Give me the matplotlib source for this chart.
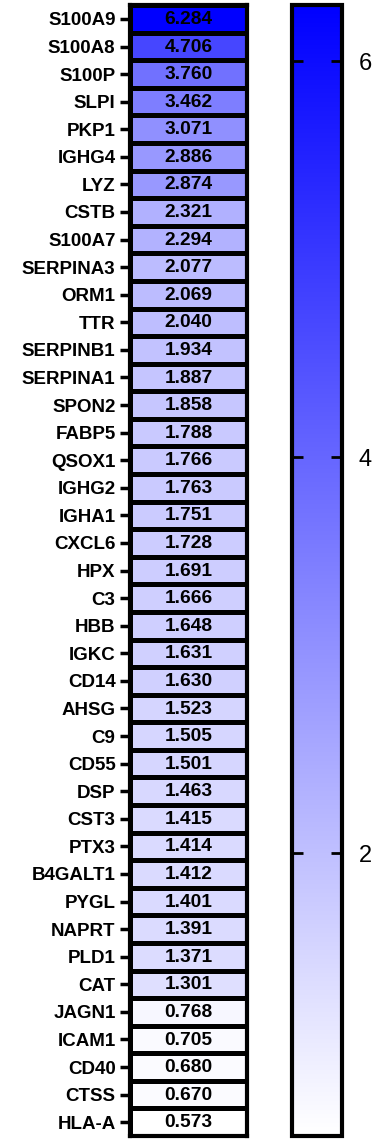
import numpy as np
import matplotlib
matplotlib.use("Agg")
import matplotlib.pyplot as plt
from matplotlib.colors import LinearSegmentedColormap

plt.rcParams['font.family'] = ['Liberation Sans', 'DejaVu Sans']

genes = ["S100A9", "S100A8", "S100P", "SLPI", "PKP1", "IGHG4", "LYZ", "CSTB",
         "S100A7", "SERPINA3", "ORM1", "TTR", "SERPINB1", "SERPINA1", "SPON2",
         "FABP5", "QSOX1", "IGHG2", "IGHA1", "CXCL6", "HPX", "C3", "HBB", "IGKC",
         "CD14", "AHSG", "C9", "CD55", "DSP", "CST3", "PTX3", "B4GALT1", "PYGL",
         "NAPRT", "PLD1", "CAT", "JAGN1", "ICAM1", "CD40", "CTSS", "HLA-A"]
values = [6.284, 4.706, 3.760, 3.462, 3.071, 2.886, 2.874, 2.321, 2.294, 2.077,
          2.069, 2.040, 1.934, 1.887, 1.858, 1.788, 1.766, 1.763, 1.751, 1.728,
          1.691, 1.666, 1.648, 1.631, 1.630, 1.523, 1.505, 1.501, 1.463, 1.415,
          1.414, 1.412, 1.401, 1.391, 1.371, 1.301, 0.768, 0.705, 0.680, 0.670,
          0.573]
cbar_ticks = [2, 4, 6]

# white -> pure blue, scaled to data min/max
cmap = LinearSegmentedColormap.from_list("wb", ["#ffffff", "#0000ff"])
vmin, vmax = min(values), max(values)

fig = plt.figure(figsize=(3.84, 11.4), dpi=100)
ax = fig.add_axes([0.339, 0.0035, 0.304, 0.992])
cax = fig.add_axes([0.761, 0.0035, 0.130, 0.992])

n = len(values)
data = np.array(values).reshape(-1, 1)
mesh = ax.pcolormesh(data, cmap=cmap, vmin=vmin, vmax=vmax,
                     edgecolors="black", linewidth=2.3)
ax.set_xlim(0, 1)
ax.set_ylim(n, 0)
ax.set_xticks([])
ax.set_yticks(np.arange(n) + 0.5)
ax.set_yticklabels(genes, fontsize=13.5, fontweight="bold")
ax.tick_params(axis="y", length=7, width=2.5, pad=3.5)
for s in ax.spines.values():
    s.set_linewidth(3)

for i, v in enumerate(values):
    ax.text(0.5, i + 0.52, f"{v:.3f}", ha="center", va="center",
            fontsize=13.8, fontweight="bold", color="black")

cb = fig.colorbar(mesh, cax=cax, ticks=cbar_ticks)
cb.outline.set_linewidth(3)
cax.tick_params(direction="in", left=True, right=True, length=8, width=2,
                labelsize=17, pad=12)
cax.yaxis.set_ticks_position("both")
cax.tick_params(labelleft=False, labelright=True)

fig.savefig("out.png", dpi=100)
